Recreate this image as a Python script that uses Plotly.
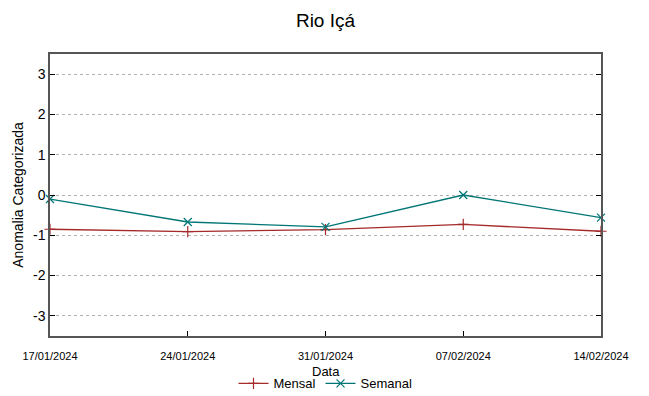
import plotly.graph_objects as go

dates = ["2024-01-17", "2024-01-24", "2024-01-31", "2024-02-07", "2024-02-14"]
tick_labels = ["17/01/2024", "24/01/2024", "31/01/2024", "07/02/2024", "14/02/2024"]
mensal = [-0.85, -0.91, -0.86, -0.73, -0.90]
semanal = [-0.10, -0.67, -0.79, 0.00, -0.56]
y_ticks = [-3, -2, -1, 0, 1, 2, 3]
y_tick_labels = ["-3", "-2", "-1", "0", "1", "2", "3"]

narrow = "Liberation Sans Narrow, Liberation Sans, Arial"

fig = go.Figure()
fig.add_trace(go.Scatter(x=dates, y=mensal, name="Mensal", mode="lines+markers",
                         line=dict(color="#a52a2a", width=1.3),
                         marker=dict(symbol="cross-thin", size=8, line=dict(color="#a52a2a", width=1.2)),
                         cliponaxis=False))
fig.add_trace(go.Scatter(x=dates, y=semanal, name="Semanal", mode="lines+markers",
                         line=dict(color="#007575", width=1.3),
                         marker=dict(symbol="x-thin", size=8, line=dict(color="#007575", width=1.2)),
                         cliponaxis=False))

fig.update_layout(
    width=649, height=396,
    margin=dict(l=50, r=48, t=54, b=60, autoexpand=False),
    paper_bgcolor="white", plot_bgcolor="white",
    font=dict(family="Liberation Sans, Arial, sans-serif", color="black"),
    title=dict(text="Rio Içá", x=0.5, xref="paper", xanchor="center",
               y=1 - 20 / 396, yref="container", yanchor="middle",
               font=dict(size=19)),
    showlegend=True,
    legend=dict(orientation="h", x=0.5, xanchor="center", y=-0.115, yanchor="top",
                font=dict(family=narrow, size=13),
                bgcolor="rgba(0,0,0,0)", itemwidth=30, tracegroupgap=0),
    annotations=[dict(text="Data", x=0.5, xref="paper", y=0, yref="paper",
                      yanchor="middle", yshift=-35,
                      showarrow=False, font=dict(family=narrow, size=13))],
)

fig.update_xaxes(
    type="date", range=[dates[0], dates[-1]],
    tickvals=dates, ticktext=tick_labels,
    tickfont=dict(family=narrow, size=11),
    ticks="inside", ticklen=5, tickcolor="black", ticklabelstandoff=9,
    showline=True, linecolor="#555555", linewidth=1.5, mirror=True,
    showgrid=False, zeroline=False, automargin=False,
)
fig.update_yaxes(
    range=[-3.5, 3.5], tickvals=y_ticks, ticktext=y_tick_labels,
    tickfont=dict(size=14),
    ticks="inside", ticklen=5, tickcolor="black",
    showline=True, linecolor="#555555", linewidth=1.5, mirror="ticks",
    showgrid=True, gridcolor="#b0b0b0", griddash="dot", gridwidth=1,
    zeroline=False, automargin=False,
    title=dict(text="Anomalia Categorizada", font=dict(size=14), standoff=6),
)

fig.write_html("out.html", config={"displayModeBar": False},
               post_script="document.body.style.margin='0';")
